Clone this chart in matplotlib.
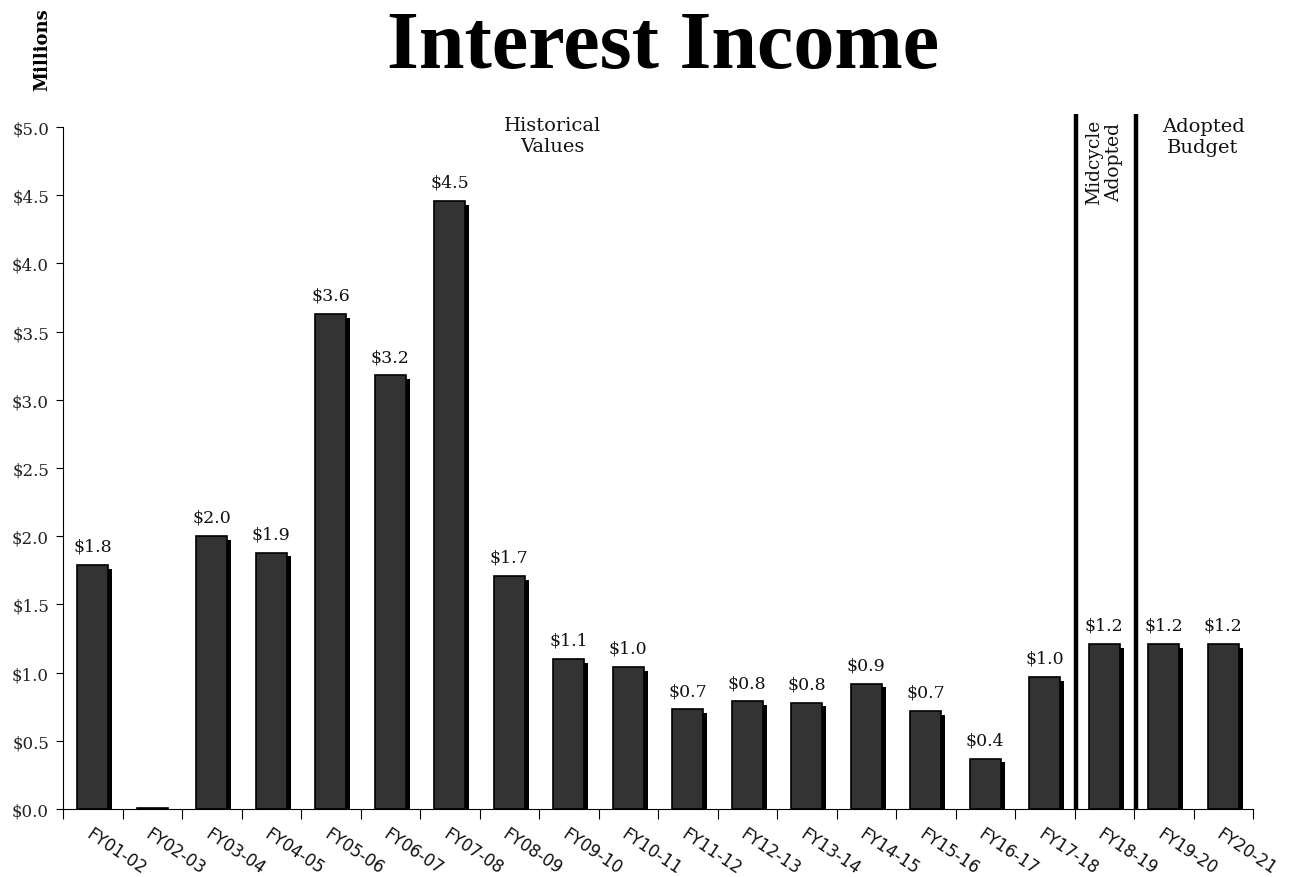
import matplotlib
matplotlib.use("Agg")
import matplotlib.pyplot as plt
import matplotlib.patheffects as pe
import numpy as np

categories = ["FY01-02", "FY02-03", "FY03-04", "FY04-05", "FY05-06", "FY06-07",
              "FY07-08", "FY08-09", "FY09-10", "FY10-11", "FY11-12", "FY12-13",
              "FY13-14", "FY14-15", "FY15-16", "FY16-17", "FY17-18", "FY18-19",
              "FY19-20", "FY20-21"]
values = [1.79, 0.005, 2.00, 1.88, 3.63, 3.18, 4.46, 1.71, 1.10, 1.04, 0.73,
          0.79, 0.78, 0.92, 0.72, 0.37, 0.97, 1.21, 1.21, 1.21]
yticks = [0.0, 0.5, 1.0, 1.5, 2.0, 2.5, 3.0, 3.5, 4.0, 4.5, 5.0]

serif = "DejaVu Serif"

fig = plt.figure(figsize=(12.96, 8.78), dpi=100)
ax = fig.add_axes([63/1296, 1-810/878, (1253-63)/1296, (810-128)/878])

x = np.arange(len(categories))
bars = ax.bar(x, values, width=0.52, color="#333333", edgecolor="black", linewidth=1.2,
              zorder=3)
for b in bars:
    b.set_path_effects([pe.SimplePatchShadow(offset=(3, -2.8), shadow_rgbFace="black",
                                             alpha=1.0), pe.Normal()])

for xi, v in zip(x, values):
    if v >= 0.05:
        ax.text(xi, v + 0.075, f"${v:.1f}", ha="center", va="bottom",
                fontsize=12.5, family=serif, color="#111111")

ax.set_xlim(-0.5, len(categories) - 0.5)
ax.set_ylim(0, 5.0)
ax.set_yticks(yticks)
ax.set_yticklabels([f"${t:.1f}" for t in yticks], family=serif, fontsize=12,
                   color="#222222")
ax.set_xticks(np.arange(len(categories) + 1) - 0.5)
ax.set_xticklabels([])
ax.set_xticks(x, minor=True)
ax.set_xticklabels(categories, minor=True, rotation=-34, ha="left",
                   rotation_mode="anchor", fontsize=12, family="DejaVu Sans",
                   color="#111111")
ax.tick_params(axis="x", which="minor", length=0, pad=11)
ax.tick_params(axis="x", which="major", length=7, direction="out")
ax.tick_params(axis="y", length=5, direction="out", pad=5)
for s in ["top", "right"]:
    ax.spines[s].set_visible(False)

# dividers between historical / midcycle / adopted
for bx in [16.5, 17.5]:
    ax.plot([bx + 0.03, bx + 0.03], [0, 5.095], color="black", lw=3.2,
            clip_on=False, zorder=4, solid_capstyle="butt")

ax.text(7.72, 5.08, "Historical\nValues", ha="center", va="top", fontsize=14,
        family=serif, linespacing=1.2, color="#111111")
ax.text(17.0, 5.06, "Midcycle\nAdopted", ha="center", va="top", rotation=90,
        fontsize=13.5, family=serif, linespacing=1.15, color="#111111",
        multialignment="center")
ax.text(18.66, 5.07, "Adopted\nBudget", ha="center", va="top", fontsize=14,
        family=serif, linespacing=1.2, color="#111111")

fig.text(663/1296, 1-68/878, "Interest Income", ha="center", va="baseline",
         fontsize=59, fontweight="bold", family="Liberation Serif")
fig.text(42/1296, 1-50/878, "Millions", ha="center", va="center", rotation=90,
         fontsize=13, fontweight="bold", family=serif)

fig.savefig("out.png", dpi=100)
